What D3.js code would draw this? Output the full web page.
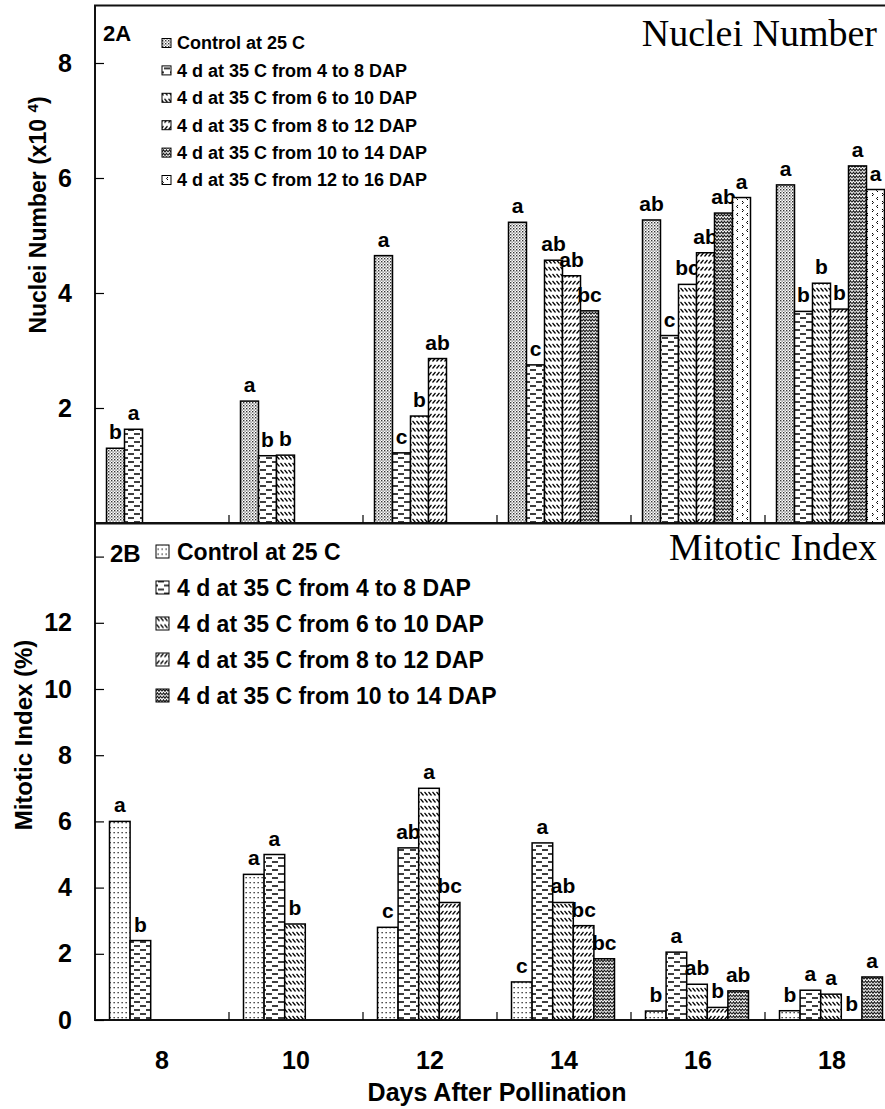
<!DOCTYPE html>
<html>
<head>
<meta charset="utf-8">
<script src="https://cdn.jsdelivr.net/npm/d3@7"></script>
<style>
  body { margin: 0; background: #fff; }
  svg { display: block; }
  text { font-family: "Liberation Sans", Arial, sans-serif; font-weight: bold; fill: #000; }
  .title { font-family: "Liberation Serif", "Times New Roman", serif; font-weight: normal; }
</style>
</head>
<body>
<script>
// x categories
var days = ['8', '10', '12', '14', '16', '18'];

// legend texts
var seriesA = ['Control at 25 C', '4 d at 35 C from 4 to 8 DAP', '4 d at 35 C from 6 to 10 DAP',
  '4 d at 35 C from 8 to 12 DAP', '4 d at 35 C from 10 to 14 DAP', '4 d at 35 C from 12 to 16 DAP'];
var seriesB = ['Control at 25 C', '4 d at 35 C from 4 to 8 DAP', '4 d at 35 C from 6 to 10 DAP',
  '4 d at 35 C from 8 to 12 DAP', '4 d at 35 C from 10 to 14 DAP'];

// 2A nuclei number (x10^4), one array per treatment, one value per day
var nucleiControl = [1.30, 2.12, 4.65, 5.23, 5.27, 5.88];
var nuclei4to8    = [1.63, 1.17, 1.22, 2.75, 3.26, 3.68];
var nuclei6to10   = [null, 1.18, 1.86, 4.57, 4.15, 4.17];
var nuclei8to12   = [null, null, 2.86, 4.30, 4.70, 3.72];
var nuclei10to14  = [null, null, null, 3.69, 5.39, 6.21];
var nuclei12to16  = [null, null, null, null, 5.66, 5.80];
var nucleiLetters = [
  ['b', 'a', 'a', 'a', 'ab', 'a'],
  ['a', 'b', 'c', 'c', 'c', 'b'],
  [null, 'b', 'b', 'ab', 'bc', 'b'],
  [null, null, 'ab', 'ab', 'ab', 'b'],
  [null, null, null, 'bc', 'ab', 'a'],
  [null, null, null, null, 'a', 'a']
];

// 2B mitotic index (%)
var mitoticControl = [6.00, 4.40, 2.80, 1.15, 0.27, 0.28];
var mitotic4to8    = [2.40, 5.00, 5.20, 5.35, 2.05, 0.90];
var mitotic6to10   = [null, 2.90, 7.00, 3.55, 1.08, 0.78];
var mitotic8to12   = [null, null, 3.55, 2.85, 0.38, 0.00];
var mitotic10to14  = [null, null, null, 1.85, 0.88, 1.30];
var mitoticLetters = [
  ['a', 'a', 'c', 'c', 'b', 'b'],
  ['b', 'a', 'ab', 'a', 'a', 'a'],
  [null, 'b', 'a', 'ab', 'ab', 'a'],
  [null, null, 'bc', 'bc', 'b', 'b'],
  [null, null, null, 'bc', 'ab', 'a']
];

var width = 885, height = 1109;
var left = 95, right = 899;

var svg = d3.select('body').append('svg')
  .attr('width', width)
  .attr('height', height);

// fill patterns, scanned look
var defs = svg.append('defs');
function pattern(id, w, h) {
  var p = defs.append('pattern')
    .attr('id', id)
    .attr('patternUnits', 'userSpaceOnUse')
    .attr('width', w).attr('height', h);
  p.append('rect').attr('width', w).attr('height', h).attr('fill', '#fff');
  return p;
}
var p = pattern('ctrlA', 3, 3);
p.append('rect').attr('x', 0).attr('y', 0).attr('width', 1.4).attr('height', 1.4).attr('fill', '#333');
p.append('rect').attr('x', 1.5).attr('y', 1.5).attr('width', 1.2).attr('height', 1.2).attr('fill', '#555');
p = pattern('ctrlB', 4, 5);
p.append('rect').attr('x', 1.5).attr('y', 2).attr('width', 1.3).attr('height', 1.3).attr('fill', '#222');
p = pattern('dash', 12, 8);
p.append('path').attr('d', 'M2,2H8M8,6H14M-4,6H2').attr('stroke', '#000').attr('stroke-width', 1.4);
p = pattern('back', 4, 7);
p.append('path').attr('d', 'M0.5,1L3.5,4.5').attr('stroke', '#000').attr('stroke-width', 1.2);
p = pattern('fwd', 4, 7);
p.append('path').attr('d', 'M0.5,4.5L3.5,1').attr('stroke', '#000').attr('stroke-width', 1.2);
p = pattern('wave', 6, 3.5);
p.append('path').attr('d', 'M0,2.8L1.5,0.8L3,2.8L4.5,0.8L6,2.8').attr('stroke', '#000').attr('stroke-width', 1.1).attr('fill', 'none');
p = pattern('chev', 10, 8);
p.append('path').attr('d', 'M2,1L3.5,2.5L2,4M8,5L6.5,6.5L8,8').attr('stroke', '#000').attr('stroke-width', 1).attr('fill', 'none');

var fillsA = ['url(#ctrlA)', 'url(#dash)', 'url(#back)', 'url(#fwd)', 'url(#wave)', 'url(#chev)'];
var fillsB = ['url(#ctrlB)', 'url(#dash)', 'url(#back)', 'url(#fwd)', 'url(#wave)'];

var x0 = d3.scaleBand().domain(days).range([left, right]);

function drawPanel(cfg) {
  var g = svg.append('g');
  var x1 = d3.scaleBand()
    .domain(d3.range(cfg.values.length))
    .range(cfg.inner);

  // bars
  cfg.values.forEach(function(vals, s) {
    var data = days.map(function(d, i) {
      return { day: d, v: vals[i], lab: cfg.letters[s][i] };
    }).filter(function(d) { return d.v != null; });

    g.selectAll('rect.s' + s)
      .data(data)
      .enter().append('rect')
        .attr('class', 's' + s)
        .attr('x', function(d) { return x0(d.day) + x1(s); })
        .attr('y', function(d) { return cfg.y(d.v); })
        .attr('width', x1.bandwidth())
        .attr('height', function(d) { return cfg.y(0) - cfg.y(d.v); })
        .attr('fill', cfg.fills[s])
        .attr('stroke', '#000')
        .attr('stroke-width', 1.5);

    g.selectAll('text.s' + s)
      .data(data)
      .enter().append('text')
        .attr('class', 's' + s)
        .attr('x', function(d) { return x0(d.day) + x1(s) + x1.bandwidth() / 2; })
        .attr('y', function(d) { return cfg.y(d.v) - 9; })
        .attr('text-anchor', 'middle')
        .attr('font-size', 21)
        .text(function(d) { return d.lab; });
  });

  // frame
  g.append('rect')
    .attr('x', left).attr('y', cfg.y.range()[1])
    .attr('width', right - left)
    .attr('height', cfg.y.range()[0] - cfg.y.range()[1])
    .attr('fill', 'none')
    .attr('stroke', '#111')
    .attr('stroke-width', 2);

  // y axis, ticks inward
  var yAxis = d3.axisLeft(cfg.y)
    .tickValues(cfg.ticks)
    .tickSizeInner(-9)
    .tickSizeOuter(0)
    .tickPadding(23)
    .tickFormat(function(d) { return cfg.labelled.indexOf(d) >= 0 ? d : ''; });
  var ya = g.append('g')
    .attr('transform', 'translate(' + left + ',0)')
    .call(yAxis);
  ya.select('.domain').remove();
  ya.selectAll('line').attr('stroke', '#000').attr('stroke-width', 1.2);
  ya.selectAll('text')
    .attr('font-size', 25)
    .attr('font-family', '"Liberation Sans", Arial, sans-serif')
    .attr('font-weight', 'bold')
    .attr('fill', '#000');

  // group separators on baseline
  g.selectAll('line.sep')
    .data(days.slice(1))
    .enter().append('line')
      .attr('class', 'sep')
      .attr('x1', function(d) { return x0(d); })
      .attr('x2', function(d) { return x0(d); })
      .attr('y1', cfg.y(0))
      .attr('y2', cfg.y(0) - 8)
      .attr('stroke', '#000')
      .attr('stroke-width', 1.2);

  // panel tag and legend
  g.append('text')
    .attr('x', cfg.tag[0]).attr('y', cfg.tag[1])
    .attr('font-size', cfg.tagSize)
    .text(cfg.tagText);
  var lg = g.selectAll('g.leg')
    .data(cfg.series)
    .enter().append('g')
      .attr('class', 'leg')
      .attr('transform', function(d, i) {
        return 'translate(0,' + (cfg.leg.y + i * cfg.leg.step) + ')';
      });
  lg.append('rect')
    .attr('x', cfg.leg.sx)
    .attr('y', -cfg.leg.sw / 2)
    .attr('width', cfg.leg.sw)
    .attr('height', cfg.leg.sw)
    .attr('fill', function(d, i) { return cfg.fills[i]; })
    .attr('stroke', '#000')
    .attr('stroke-width', 1);
  lg.append('text')
    .attr('x', cfg.leg.tx)
    .attr('dy', '0.36em')
    .attr('font-size', cfg.leg.fs)
    .text(function(d) { return d; });

  // serif title on the right
  g.append('text')
    .attr('class', 'title')
    .attr('x', 877).attr('y', cfg.titleY)
    .attr('text-anchor', 'end')
    .attr('font-size', 38)
    .text(cfg.title);
}

var yA = d3.scaleLinear().domain([0, 9]).range([523, 5.5]);
var yB = d3.scaleLinear().domain([0, 15]).range([1020, 523.5]);

drawPanel({
  y: yA,
  values: [nucleiControl, nuclei4to8, nuclei6to10, nuclei8to12, nuclei10to14, nuclei12to16],
  letters: nucleiLetters,
  fills: fillsA,
  series: seriesA,
  inner: [11.5, 119.5],
  ticks: [2, 4, 6, 8],
  labelled: [2, 4, 6, 8],
  tag: [103, 41], tagSize: 22, tagText: '2A',
  leg: { y: 43, step: 27.4, sx: 162, sw: 9, tx: 177, fs: 18 },
  title: 'Nuclei Number', titleY: 46
});

drawPanel({
  y: yB,
  values: [mitoticControl, mitotic4to8, mitotic6to10, mitotic8to12, mitotic10to14],
  letters: mitoticLetters,
  fills: fillsB,
  series: seriesB,
  inner: [14.5, 117.5],
  ticks: [0, 2, 4, 6, 8, 10, 12, 14],
  labelled: [0, 2, 4, 6, 8, 10, 12],
  tag: [110, 562], tagSize: 24, tagText: '2B',
  leg: { y: 551.5, step: 36, sx: 156, sw: 13, tx: 177, fs: 23 },
  title: 'Mitotic Index', titleY: 560
});

// x category labels, under the lower panel
svg.append('g').selectAll('text')
  .data(days)
  .enter().append('text')
    .attr('x', function(d) { return x0(d) + x0.bandwidth() / 2; })
    .attr('y', 1069)
    .attr('text-anchor', 'middle')
    .attr('font-size', 25)
    .text(function(d) { return d; });

svg.append('text')
  .attr('x', (left + right) / 2).attr('y', 1101)
  .attr('text-anchor', 'middle')
  .attr('font-size', 25)
  .text('Days After Pollination');

// y titles
var yt = svg.append('text')
  .attr('transform', 'translate(46,215) rotate(-90)')
  .attr('text-anchor', 'middle')
  .attr('font-size', 23);
yt.append('tspan').text('Nuclei Number (x10 ');
yt.append('tspan').attr('font-size', 15).attr('baseline-shift', 'super').text('4');
yt.append('tspan').text(')');

svg.append('text')
  .attr('transform', 'translate(32,735) rotate(-90)')
  .attr('text-anchor', 'middle')
  .attr('font-size', 24)
  .text('Mitotic Index (%)');
</script>
</body>
</html>
